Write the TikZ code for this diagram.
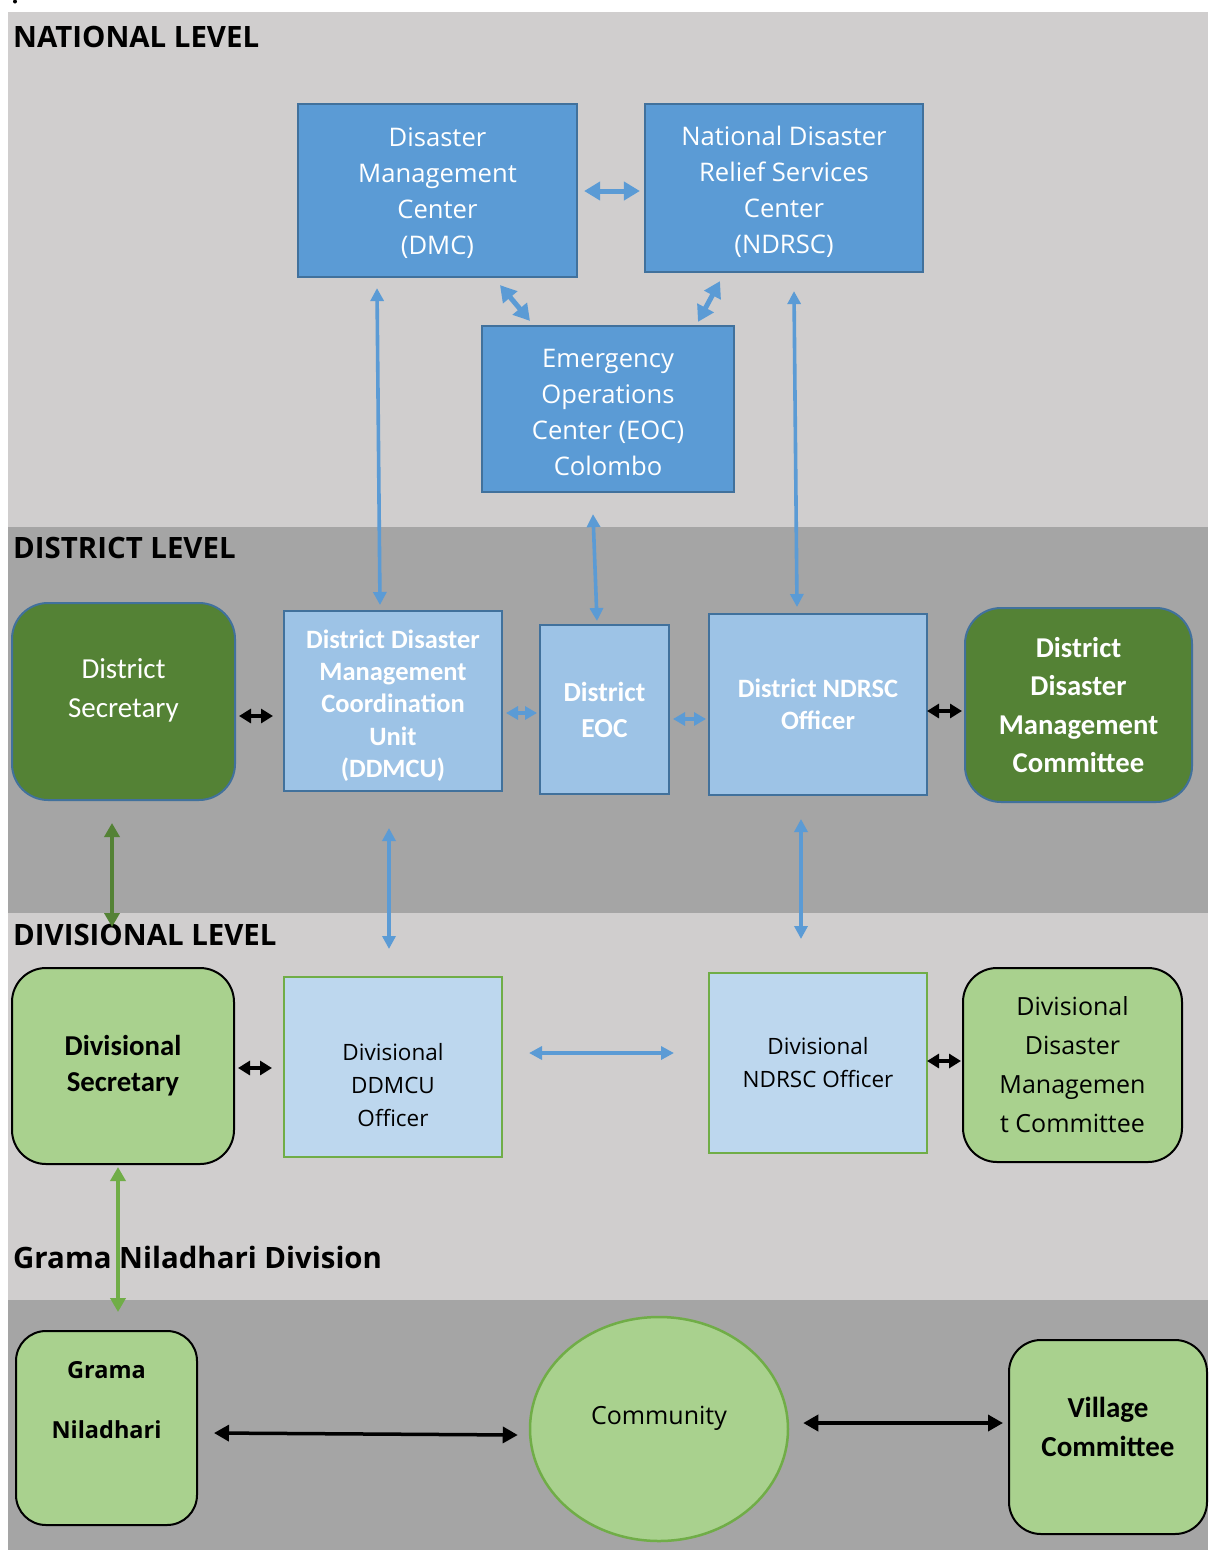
\documentclass[tikz,border=0pt]{standalone}
\usepackage{fontspec}
\setmainfont{Open Sans}
\newfontfamily\calib{Carlito}
\usetikzlibrary{arrows.meta,calc,shapes.geometric}
\definecolor{bglight}{HTML}{D0CECE}
\definecolor{bgdark}{HTML}{A5A5A5}
\definecolor{boxblue}{HTML}{5B9BD5}
\definecolor{edgeblue}{HTML}{41719C}
\definecolor{lightblue}{HTML}{9DC3E6}
\definecolor{paleblue}{HTML}{BDD7EE}
\definecolor{darkgreen}{HTML}{548235}
\definecolor{lightgreen}{HTML}{A9D18E}
\definecolor{midgreen}{HTML}{70AD47}
\tikzset{
  natbox/.style={draw=edgeblue,fill=boxblue,line width=2.2pt,inner sep=0pt,text=white,align=center},
  nattext/.style={inner sep=0pt,text=white,align=center,font=\fontsize{25.6}{36}\selectfont},
  distbox/.style={draw=edgeblue,fill=lightblue,line width=2pt,inner sep=0pt,text=white,align=center,
    font=\calib\bfseries\fontsize{25.5}{32.5}\selectfont},
  greenbig/.style={draw=edgeblue,fill=darkgreen,line width=2pt,rounded corners=36pt,inner sep=0pt,text=white,align=center},
  lgbox/.style={draw=black,fill=lightgreen,line width=2pt,rounded corners=32pt,inner sep=0pt,text=black,align=center},
  divbox/.style={draw=midgreen,fill=paleblue,line width=2pt,inner sep=0pt,text=black,align=center,
    font=\fontsize{22.5}{33}\selectfont},
  txt/.style={inner sep=0pt,align=center},
  heading/.style={inner sep=0pt,anchor=west,font=\bfseries\fontsize{29.4}{31}\selectfont},
  bigblue/.style={draw=boxblue,line width=5pt,{Triangle[length=16pt,width=18pt]}-{Triangle[length=16pt,width=18pt]}},
  thinblue/.style={draw=boxblue,line width=3.6pt,{Triangle[length=13pt,width=13pt]}-{Triangle[length=13pt,width=13pt]}},
  shortblue/.style={draw=boxblue,line width=3.2pt,{Triangle[length=12pt,width=13pt]}-{Triangle[length=12pt,width=13pt]}},
  shortblack/.style={draw=black,line width=3.5pt,{Triangle[length=12pt,width=14pt]}-{Triangle[length=12pt,width=14pt]}},
  longblack/.style={draw=black,line width=3.5pt,{Triangle[length=15pt,width=16pt]}-{Triangle[length=15pt,width=16pt]}},
  greenarrow/.style={line width=4pt,{Triangle[length=14pt,width=15pt]}-{Triangle[length=14pt,width=15pt]}}
}
\begin{document}
\begin{tikzpicture}[x=1pt,y=-1pt]
\useasboundingbox (0,0) rectangle (1208,1550);
\fill[white] (0,0) rectangle (1208,1550);
% bands
\fill[bglight] (8,12) rectangle (1208,527);
\fill[bgdark] (8,527) rectangle (1208,913);
\fill[bglight] (8,913) rectangle (1208,1300);
\fill[bgdark] (8,1300) rectangle (1208,1550);
\fill[black] (15,1.5) circle (2);
% headings
\node[heading] (hnat) at (13,37) {NATIONAL LEVEL};
\node[heading] (hdist) at (13,548) {DISTRICT LEVEL};
\node[heading] (hdiv) at (13,935) {DIVISIONAL LEVEL};
\node[heading] (hgn) at (13,1257) {Grama Niladhari Division};

% national
\node[natbox,minimum width=279pt,minimum height=173pt] (dmc) at (437.5,190.5) {};
\node[nattext] (dmct) at (437.5,193.5) {Disaster\\Management\\Center\\(DMC)};
\node[natbox,minimum width=278pt,minimum height=168pt] (ndrsc) at (784,188) {};
\node[nattext] (ndrsct) at (784,192) {National Disaster\\Relief Services\\Center\\(NDRSC)};
\node[natbox,minimum width=252pt,minimum height=166pt] (eoc) at (608,409) {};
\node[nattext] (eoct) at (608,412) {Emergency\\Operations\\Center (EOC)\\Colombo};

% district
\node[greenbig,minimum width=223pt,minimum height=197pt] (ds) at (123.5,701.5) {};
\node[txt,text=white,font=\calib\fontsize{29}{39}\selectfont] (dst) at (123.5,690.5) {District\\Secretary};
\node[distbox,minimum width=218pt,minimum height=180pt] (ddmcu) at (393,701) {};
\node[txt,text=white,font=\calib\bfseries\fontsize{26.5}{32.3}\selectfont] (ddmcut) at (393,705.5) {District Disaster\\Management\\Coordination\\Unit\\(DDMCU)};
\node[distbox,minimum width=129pt,minimum height=169pt,font=\calib\bfseries\fontsize{27.5}{36}\selectfont] (deoc) at (604.5,709.5) {District\\EOC};
\node[distbox,minimum width=218pt,minimum height=181pt,font=\calib\bfseries\fontsize{26.5}{32}\selectfont] (dndrsc) at (818,704.5) {District NDRSC\\Officer};
\node[greenbig,minimum width=227pt,minimum height=194pt,font=\calib\bfseries\fontsize{28.7}{38.5}\selectfont] (ddmc) at (1078.5,705) {District\\Disaster\\Management\\Committee};

% divisional
\node[lgbox,minimum width=222pt,minimum height=196pt,rounded corners=34pt,font=\calib\bfseries\fontsize{28.8}{36}\selectfont] (divsec) at (123,1066) {Divisional\\Secretary};
\node[divbox,minimum width=218pt,minimum height=180pt] (divddmcu) at (393,1067) {};
\node[txt,font=\fontsize{22.5}{33}\selectfont] (divddmcut) at (393,1085) {Divisional\\DDMCU\\Officer};
\node[divbox,minimum width=218pt,minimum height=180pt] (divndrsc) at (818,1063) {Divisional\\NDRSC Officer};
\node[lgbox,minimum width=219pt,minimum height=194pt,rounded corners=34pt,font=\fontsize{25}{39}\selectfont] (divdmc) at (1072.5,1065) {Divisional\\Disaster\\Managemen\\t Committee};

% grama niladhari
\node[lgbox,minimum width=181pt,minimum height=194pt,rounded corners=30pt] (gn) at (106.5,1428) {};
\node[txt,font=\bfseries\fontsize{23.5}{30}\selectfont] (gnt) at (106.5,1400) {Grama\\[30pt]Niladhari};
\node[ellipse,draw=midgreen,fill=lightgreen,line width=2.5pt,minimum width=258pt,minimum height=224pt,inner sep=0pt] (comm) at (659,1429) {};
\node[txt,font=\fontsize{25}{30}\selectfont] (commt) at (659,1418) {Community};
\node[lgbox,minimum width=198pt,minimum height=194pt,rounded corners=32pt] (vc) at (1108,1437) {};
\node[txt,font=\calib\bfseries\fontsize{29}{39}\selectfont] (vct) at (1108,1426.5) {Village\\Committee};

% national connectors
\draw[bigblue] ($(dmc.east)+(6,0.5)$) -- ($(ndrsc.west)+(-4,3)$);
\draw[bigblue] ($(dmc.south)+(62.5,7)$) -- ($(eoc.north)+(-78,-4)$);
\draw[bigblue] ($(ndrsc.south)+(-64,8)$) -- ($(eoc.north)+(90,-3)$);
\draw[thinblue] ($(dmc.south)+(-60.5,10)$) -- ($(ddmcu.north)+(-13,-5)$);
\draw[thinblue] ($(eoc.south)+(-15,21)$) -- ($(deoc.north)+(-7.5,-3)$);
\draw[thinblue] ($(ndrsc.south)+(10,18)$) -- ($(dndrsc.north)+(-21,-6)$);

% district connectors
\draw[shortblack] ($(ds.east)+(3,14.5)$) -- ($(ddmcu.west)+(-10,15)$);
\draw[shortblue] ($(ddmcu.east)+(3,12)$) -- ($(deoc.west)+(-2,3.5)$);
\draw[shortblue] ($(deoc.east)+(3,9.5)$) -- ($(dndrsc.west)+(-2,14.5)$);
\draw[shortblack] ($(dndrsc.east)+(-1,6.5)$) -- ($(ddmc.west)+(-2,6)$);
\draw[thinblue] ($(ddmcu.south)+(-4,36)$) -- ($(divddmcu.north)+(-4,-27)$);
\draw[thinblue] ($(dndrsc.south)+(-17,23)$) -- ($(divndrsc.north)+(-17,-33)$);
\draw[greenarrow,draw=darkgreen] ($(ds.south)+(-11.5,22)$) -- ($(divsec.north)+(-11,-40)$);

% divisional connectors
\draw[shortblack] ($(divsec.east)+(3,2)$) -- ($(divddmcu.west)+(-11,1)$);
\draw[thinblue] ($(divddmcu.east)+(26,-14)$) -- ($(divndrsc.west)+(-34,-10)$);
\draw[shortblack] ($(divndrsc.east)+(-1,-2)$) -- ($(divdmc.west)+(-1,-4)$);
\draw[greenarrow,draw=midgreen] ($(divsec.south)+(-5,2)$) -- ($(gn.north)+(11.5,-18)$);

% grama niladhari connectors
\draw[longblack] ($(gn.east)+(16,5)$) -- ($(comm.west)+(-11,6)$);
\draw[longblack] ($(comm.east)+(14,-6)$) -- ($(vc.west)+(-5,-14)$);
\end{tikzpicture}
\end{document}
